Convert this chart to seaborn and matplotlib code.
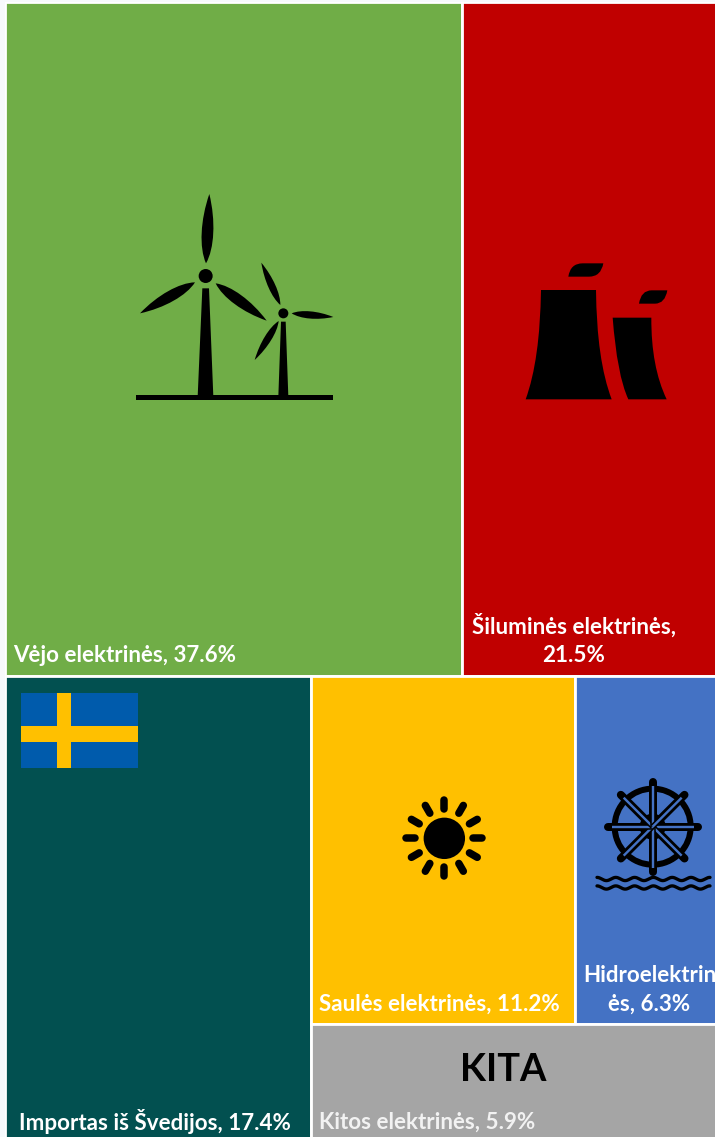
import numpy as np
import matplotlib
matplotlib.use("Agg")
import matplotlib.pyplot as plt
from matplotlib.patches import Rectangle, Circle, PathPatch, Polygon
from matplotlib.path import Path
import seaborn as sns

# ---------- data ----------
names = ["Vėjo elektrinės", "Šiluminės elektrinės", "Importas iš Švedijos",
         "Saulės elektrinės", "Hidroelektrinės", "Kitos elektrinės"]
shares = [37.6, 21.5, 17.4, 11.2, 6.3, 5.9]
tile_colors = ["#70AD47", "#C00000", "#025050", "#FFC000", "#4472C4", "#A5A5A5"]

W, H = 715, 1137
sns.set_theme(style="white")
plt.rcParams["font.family"] = ["Lato", "DejaVu Sans"]
palette = sns.color_palette(tile_colors)

fig = plt.figure(figsize=(W / 100, H / 100), dpi=100, facecolor="#F7F9FC")

# The treemap runs past the right and bottom of the picture, as in the reference.
X0, Y0, TW, TH = 5.0, 1.5, 718, 1140
ax = fig.add_axes([X0 / W, 1 - (Y0 + TH) / H, TW / W, TH / H])
ax.set_xlim(0, 1)
ax.set_ylim(1, 0)
ax.set_axis_off()


def tile(i, x, y, w, h):
    ax.add_patch(Rectangle((x, y), w, h, facecolor=palette[i],
                           edgecolor="white", linewidth=2.0))


total = sum(shares)
top = shares[0] + shares[1]
top_h = top / total
tile(0, 0, 0, shares[0] / top, top_h)
tile(1, shares[0] / top, 0, shares[1] / top, top_h)
bottom = sum(shares[2:])
bottom_h = 1 - top_h
left_w = shares[2] / bottom
tile(2, 0, top_h, left_w, bottom_h)
right = sum(shares[3:])
upper = shares[3] + shares[4]
upper_h = bottom_h * upper / right
right_w = 1 - left_w
tile(3, left_w, top_h, right_w * shares[3] / upper, upper_h)
tile(4, left_w + right_w * shares[3] / upper, top_h, right_w * shares[4] / upper, upper_h)
tile(5, left_w, top_h + upper_h, right_w, bottom_h - upper_h)

# ---------- overlay in picture pixels for icons and labels ----------
ov = fig.add_axes([0, 0, 1, 1], facecolor="none")
ov.set_xlim(0, W)
ov.set_ylim(H, 0)
ov.set_axis_off()
PX = 0.72


def fill_path(verts, codes, color="black"):
    ov.add_patch(PathPatch(Path(verts, codes), facecolor=color, edgecolor="none", lw=0))


def blade(root, tip, half):
    root, tip = np.array(root, float), np.array(tip, float)
    d = tip - root
    n = np.array([-d[1], d[0]]) / np.hypot(*d)
    off = n * half / 0.75
    C4 = Path.CURVE4
    fill_path([root, root + d * 0.22 + off, root + d * 0.62 + off, tip,
               root + d * 0.62 - off, root + d * 0.22 - off, root],
              [Path.MOVETO, C4, C4, C4, C4, C4, C4])


def z(ox, oy):
    return lambda x, y: (ox + x / 3, oy + y / 3)


# wind turbines
p = z(120, 180)
ov.add_patch(Polygon([p(47, 646), p(640, 646), p(640, 660), p(47, 660)], color="black", lw=0))
ov.add_patch(Polygon([p(247, 325), p(267, 325), p(280, 650), p(233, 650)], color="black", lw=0))
ov.add_patch(Polygon([p(483, 425), p(497, 425), p(505, 650), p(475, 650)], color="black", lw=0))
ov.add_patch(Circle(p(257, 288), 7, color="black", lw=0))
ov.add_patch(Circle(p(490, 400), 5, color="black", lw=0))
blade(p(258, 250), p(268, 42), 5.8)
blade(p(225, 307), p(60, 400), 5.5)
blade(p(287, 310), p(440, 422), 5.5)
blade(p(481, 375), p(424, 248), 3.6)
blade(p(515, 400), p(640, 411), 3.6)
blade(p(476, 423), p(404, 540), 3.6)

# cooling towers
p = z(515, 250)
C3, MV, LN, CL = Path.CURVE3, Path.MOVETO, Path.LINETO, Path.CLOSEPOLY
fill_path([p(78, 120), p(75, 330), p(32, 448), p(290, 448), p(245, 330), p(243, 120), p(78, 120)],
          [MV, C3, C3, LN, C3, C3, CL])
fill_path([p(293, 203), p(306, 375), p(340, 448), p(455, 448), p(408, 350), p(409, 203), p(293, 203)],
          [MV, C3, C3, LN, C3, C3, CL])
fill_path([p(160, 80), p(166, 40), p(203, 40), p(265, 40), p(258, 80), p(222, 80), p(160, 80)],
          [MV, C3, C3, LN, C3, C3, CL])
fill_path([p(372, 161), p(378, 121), p(410, 121), p(457, 121), p(450, 161), p(420, 161), p(372, 161)],
          [MV, C3, C3, LN, C3, C3, CL])

# ship's wheel over water
cx, cy = 590 + 188 / 3, 770 + 170 / 3
blue = palette[4]
angles = np.deg2rad(np.arange(0, 360, 45))
for a in angles:
    ov.plot([cx, cx + 45 * np.cos(a)], [cy, cy + 45 * np.sin(a)], color="black",
            lw=8 * PX, solid_capstyle="round")
ov.add_patch(Circle((cx, cy), 41, color="black", lw=0))
ov.add_patch(Circle((cx, cy), 35, color=blue, lw=0))
for a in angles:
    ov.plot([cx, cx + 36 * np.cos(a)], [cy, cy + 36 * np.sin(a)], color="black",
            lw=5.5 * PX, solid_capstyle="butt")
    ov.plot([cx, cx + 41 * np.cos(a)], [cy, cy + 41 * np.sin(a)], color=blue,
            lw=2.4 * PX, solid_capstyle="butt")
ov.add_patch(Circle((cx, cy), 13, color="black", lw=0))
ov.add_patch(Circle((cx, cy), 9, color=blue, lw=0))
ov.add_patch(Circle((cx, cy), 6, color="black", lw=0))
ov.add_patch(Circle((cx, cy), 3, color=blue, lw=0))
wave_x = np.linspace(597, 710, 300)
for wy in (879, 887.5):
    ov.plot(wave_x, wy + 1.6 * np.cos((wave_x - 597) / 18.8 * 2 * np.pi + np.pi), color="black",
            lw=3.3 * PX, solid_capstyle="round")

# sun
sx, sy = 390 + 163 / 3, 790 + 145 / 3
ov.add_patch(Circle((sx, sy), 20.7, color="black", lw=0))
for a in np.deg2rad(np.arange(0, 360, 30)):
    ov.plot([sx + 29 * np.cos(a), sx + 38 * np.cos(a)], [sy + 29 * np.sin(a), sy + 38 * np.sin(a)],
            color="black", lw=7.5 * PX, solid_capstyle="round")

# flag
ov.add_patch(Rectangle((21, 693.3), 117, 74.4, color="#005BAC", lw=0))
ov.add_patch(Rectangle((56.7, 693.3), 14.3, 74.4, color="#FFC000", lw=0))
ov.add_patch(Rectangle((21, 725.7), 117, 16, color="#FFC000", lw=0))

# ---------- labels ----------
FS = 16.1
def label(x, y, s, ha="left", **kw):
    style = dict(color="white", fontsize=FS, fontweight="bold", ha=ha, va="center", clip_on=False)
    style.update(kw)
    ov.text(x, y, s, **style)


label(13, 655, f"{names[0]}, {shares[0]}%")
label(574, 626, f"{names[1]},", ha="center")
label(574, 655, f"{shares[1]}%", ha="center")
label(19, 1122, f"{names[2]}, {shares[2]}%")
label(319, 1004, f"{names[3]}, {shares[3]}%")
label(583, 975, names[4][:13])
label(649.5, 1004, f"{names[4][13:]}, {shares[4]}%", ha="center")
label(319, 1122, f"{names[5]}, {shares[5]}%", color="#F2F2F2")
label(503, 1070, "KITA", ha="center", color="black", fontsize=27.4)

fig.savefig("out.png", dpi=100, facecolor=fig.get_facecolor())
